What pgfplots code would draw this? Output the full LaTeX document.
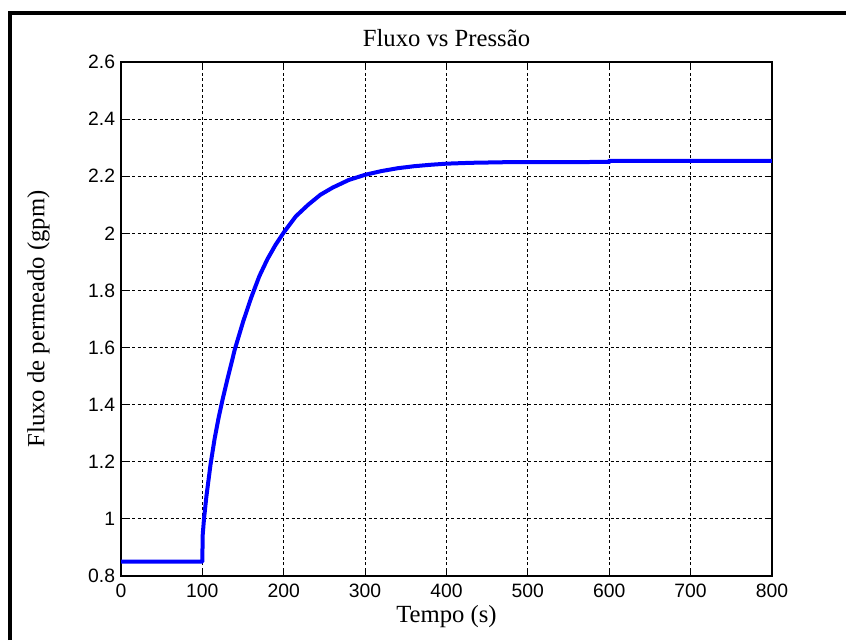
\documentclass[border=0pt]{standalone}
\usepackage{fontspec}
\setmainfont{Liberation Serif}
\newfontfamily\ticksans{Liberation Sans}
\usepackage{pgfplots}
\pgfplotsset{compat=1.18}
\definecolor{curveblue}{RGB}{0,0,255}

\begin{document}
\begin{tikzpicture}
% 1 px of the reference = 0.6pt
\useasboundingbox (0,0) rectangle (507.6pt,384pt);
\fill[white] (0,0) rectangle (507.6pt,384pt);
% outer frame (left and top edges)
\draw[line width=2.4pt,black] (6.2pt,0) -- (6.2pt,376.4pt) -- (507.6pt,376.4pt);
\begin{axis}[
    at={(72.6pt,38.4pt)},
    anchor=south west,
    scale only axis,
    width=390.6pt,
    height=308.4pt,
    xmin=0, xmax=800,
    ymin=0.8, ymax=2.6,
    xtick={0,100,...,800},
    ytick={0.8,1,1.2,1.4,1.6,1.8,2,2.2,2.4,2.6},
    yticklabels={0.8,1,1.2,1.4,1.6,1.8,2,2.2,2.4,2.6},
    tick align=inside,
    major tick length=4pt,
    tick style={black,line width=0.6pt},
    axis line style={black,line width=0.7pt},
    grid=major,
    major grid style={black,line width=0.6pt,dash pattern=on 1.8pt off 1.5pt},
    /pgf/number format/assume math mode=true,
    ticklabel style={font=\fontsize{11.6}{13}\ticksans},
    xticklabel style={yshift=-1pt},
    title={Fluxo vs Pressão},
    title style={font=\fontsize{14.8}{17}\selectfont, at={(rel axis cs:0.5,1)}, anchor=base, yshift=3.6pt},
    xlabel={Tempo (s)},
    xlabel style={font=\fontsize{14.8}{17}\selectfont, at={(rel axis cs:0.5,0)}, anchor=base, yshift=-28pt},
    ylabel={Fluxo de permeado (gpm)},
    ylabel style={font=\fontsize{14.8}{17}\selectfont, at={([xshift=-46pt]rel axis cs:0,0.5)}, anchor=base},
]
\addplot[curveblue, line width=2.4pt, line join=round] coordinates {
    (0,0.85) (100,0.85) (100.3,0.94) (102,1.0) (105,1.08) (110,1.19)
    (115,1.28) (120,1.355) (125,1.42) (130,1.48) (140,1.595) (150,1.69)
    (160,1.775) (170,1.85) (180,1.91) (190,1.96) (200,2.003) (215,2.06)
    (230,2.10) (245,2.135) (260,2.16) (280,2.187) (300,2.205) (320,2.218)
    (340,2.228) (360,2.235) (380,2.240) (400,2.244) (430,2.247)
    (470,2.249) (600,2.250) (600,2.254) (800,2.254)
};
\end{axis}
\end{tikzpicture}
\end{document}
